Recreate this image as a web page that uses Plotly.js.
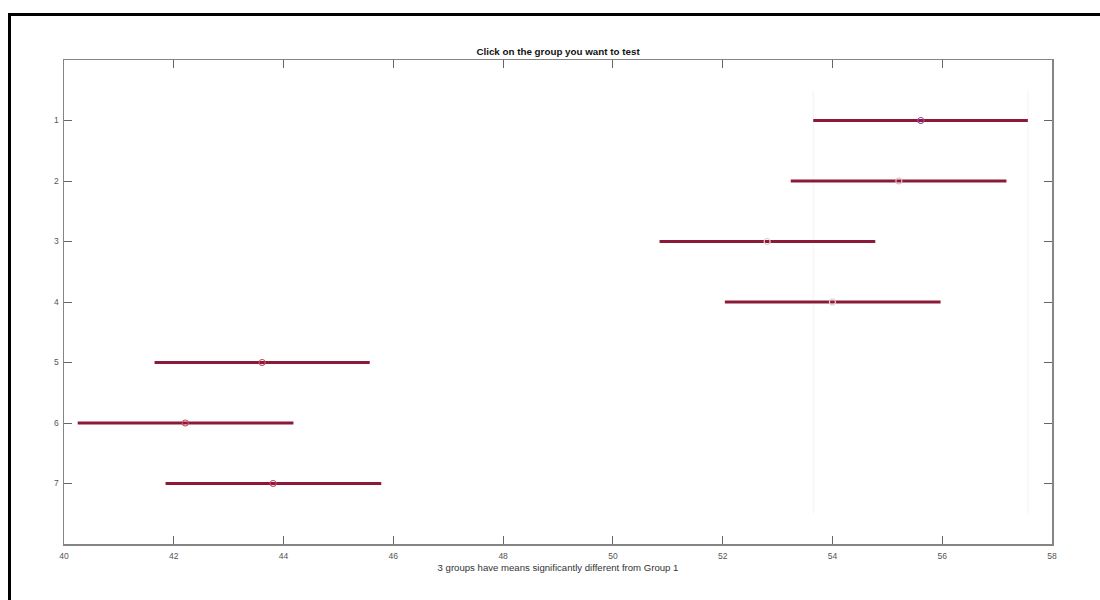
<!DOCTYPE html>
<html>
<head>
<meta charset="utf-8">
<script src="https://cdn.plot.ly/plotly-3.0.1.min.js"></script>
<style>
html,body{margin:0;padding:0;background:#fff;}
#wrap{position:relative;width:1100px;height:600px;overflow:hidden;}
#chart{position:absolute;left:0;top:0;width:1100px;height:600px;}
#frame{position:absolute;left:8px;top:13px;width:1200px;height:700px;border-left:3px solid #000;border-top:3px solid #000;pointer-events:none;}
</style>
</head>
<body>
<div id="wrap">
<div id="chart"></div>
<div id="frame"></div>
</div>
<script>
const groups = [1, 2, 3, 4, 5, 6, 7];
const groupLabels = ['1', '2', '3', '4', '5', '6', '7'];
const means = [55.61, 55.21, 52.81, 54.00, 43.61, 42.21, 43.81];
const lower = [53.65, 53.24, 50.85, 52.04, 41.65, 40.25, 41.85];
const upper = [57.56, 57.17, 54.78, 55.97, 45.57, 44.18, 45.78];
const markerColors = ['#9a4a9a', '#e2b4c0', '#e8c4ce', '#e8c4ce', '#c84a60', '#c84a60', '#c84a60'];
const titleText = 'Click on the group you want to test';
const xLabel = '3 groups have means significantly different from Group 1';

const traces = [];
// faint reference lines at the bounds of group 1's interval
[lower[0], upper[0]].forEach(v => {
  traces.push({
    x: [v, v], y: [0.5, 7.5], mode: 'lines', type: 'scatter',
    line: {color: '#f3f3f3', width: 1}, hoverinfo: 'skip', showlegend: false
  });
});
// interval lines
groups.forEach((g, i) => {
  traces.push({
    x: [lower[i], upper[i]], y: [g, g], mode: 'lines', type: 'scatter',
    line: {color: '#8b1a38', width: 3}, showlegend: false, hoverinfo: 'skip'
  });
});
// means
traces.push({
  x: means, y: groups, mode: 'markers', type: 'scatter', showlegend: false,
  marker: {symbol: 'circle-open', size: 6, color: markerColors, line: {width: 1.2, color: markerColors}}
});

const axisCommon = {
  showline: true, linecolor: '#858585', linewidth: 1.5, mirror: 'ticks',
  ticks: 'inside', ticklen: 8, tickwidth: 1, tickcolor: '#666',
  showgrid: false, zeroline: false,
  tickfont: {family: 'Liberation Sans, Arial, sans-serif', size: 8.5, color: '#555'}
};

const layout = {
  width: 1100, height: 600,
  margin: {l: 64, r: 48, t: 60, b: 56},
  paper_bgcolor: '#ffffff', plot_bgcolor: '#ffffff',
  title: {text: '<b>' + titleText + '</b>', x: 0.5073, xanchor: 'center', y: 0.914, yanchor: 'middle',
    font: {family: 'Liberation Sans, Arial, sans-serif', size: 9.8, color: '#111'}},
  xaxis: Object.assign({}, axisCommon, {
    range: [40, 58], tick0: 40, dtick: 2,
    ticklabelstandoff: 3,
    title: {text: xLabel, standoff: 4, font: {family: 'Liberation Sans, Arial, sans-serif', size: 9.6, color: '#333'}}
  }),
  yaxis: Object.assign({}, axisCommon, {
    range: [8, 0], tickvals: groups, ticktext: groupLabels,
    ticklabelstandoff: 2
  })
};

Plotly.newPlot('chart', traces, layout, {displayModeBar: false, staticPlot: true});
</script>
</body>
</html>
